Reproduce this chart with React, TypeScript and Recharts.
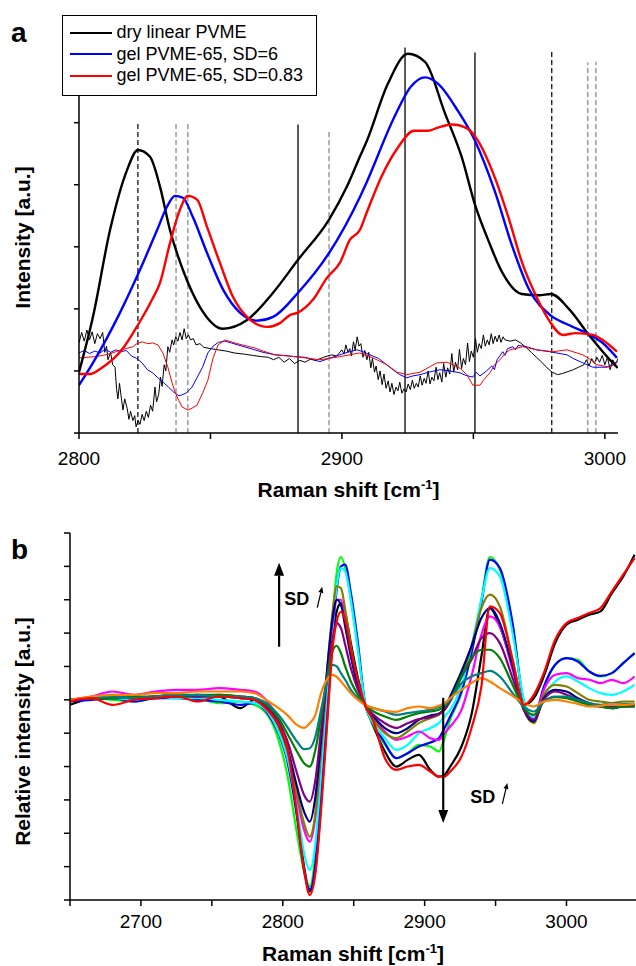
import React from 'react';
import { LineChart, Line, XAxis, YAxis, ReferenceLine, ReferenceDot, Legend, Label } from 'recharts';

type Pt = [number, number];

const FONT = '"Liberation Sans", Arial, Helvetica, sans-serif';

// ---- panel a : Raman shift [cm-1] vs intensity [a.u.]
const dryLinear: Pt[] = [
  [2800, 0.98], [2805.3, 1.87], [2811.8, 3.27], [2818.3, 4.24], [2822.4, 4.56], [2827, 4.45],
  [2830.8, 3.97], [2834.6, 3.27], [2839.5, 2.63], [2846, 2.03], [2854.8, 1.68], [2863.9, 1.82],
  [2873.8, 2.26], [2883.3, 2.79], [2895.1, 3.44], [2901.9, 3.97], [2906.8, 4.45], [2909.5, 4.71],
  [2917.5, 5.63], [2925.1, 6.11], [2931.6, 5.98], [2939.2, 5.15], [2945.6, 4.44], [2950.6, 3.68],
  [2955.9, 3.08], [2960.8, 2.6], [2968.4, 2.24], [2975, 2.22], [2979.5, 2.24], [2986.3, 2.0],
  [2994.3, 1.56], [3003, 1.13], [3004.9, 1.05],
];

const gelSd6: Pt[] = [
  [2800, 0.77], [2805.3, 1.13], [2815.6, 1.94], [2823.2, 2.63], [2829.7, 3.27], [2833.5, 3.65],
  [2836.5, 3.82], [2839.5, 3.79], [2843.3, 3.48], [2848.7, 2.9], [2854.8, 2.31], [2861.2, 1.94],
  [2867.7, 1.81], [2873.8, 1.87], [2883.3, 2.26], [2895.1, 2.9], [2906.8, 3.8], [2909.5, 4.05],
  [2919.8, 5.08], [2926.2, 5.58], [2931.6, 5.73], [2936.5, 5.63], [2944.1, 5.19], [2950.6, 4.71],
  [2958.2, 3.89], [2964.6, 3.03], [2971.1, 2.32], [2979.5, 1.89], [2986.3, 1.74], [2994.3, 1.58],
  [2999.2, 1.45], [3004.6, 1.21],
];

const gelSd083: Pt[] = [
  [2800, 0.95], [2804.2, 0.95], [2808.7, 1.05], [2816.3, 1.34], [2822.4, 1.74], [2827.8, 2.15],
  [2830.8, 2.42], [2834.6, 3.06], [2838.4, 3.6], [2841.4, 3.82], [2844.9, 3.76], [2848.7, 3.32],
  [2853.6, 2.74], [2858.6, 2.19], [2863.9, 1.87], [2871.5, 1.71], [2876.4, 1.77], [2880.2, 1.9],
  [2883.3, 1.94], [2889, 2.15], [2894.3, 2.5], [2899.2, 2.74], [2903, 3.11], [2906.8, 3.27],
  [2909.5, 3.56], [2914.8, 4.11], [2921.3, 4.6], [2927.4, 4.87], [2932.7, 4.87], [2936.5, 4.92],
  [2941.8, 4.97], [2947.9, 4.9], [2951.7, 4.71], [2958.2, 4.11], [2963.5, 3.45], [2968.4, 2.76],
  [2973.8, 2.21], [2978.7, 1.82], [2984, 1.58], [2989, 1.61], [2995.4, 1.58], [2999.2, 1.5],
  [3004.6, 1.31],
];

// thin difference spectra
const diffDry: Pt[] = [
  [2800, 1.45], [2801, 1.62], [2802, 1.48], [2803, 1.66], [2804, 1.5], [2805, 1.63], [2806, 1.44],
  [2807, 1.6], [2808, 1.52], [2809, 1.62], [2809.8, 1.3], [2810.5, 1.4], [2811, 1.18], [2812, 1.3],
  [2812.8, 1.1], [2813.7, 1.06], [2814.3, 0.7], [2814.8, 0.55], [2815.4, 0.8], [2816, 0.6],
  [2816.7, 0.37], [2817.4, 0.55], [2818.3, 0.4], [2819, 0.22], [2819.6, 0.35], [2820.5, 0.2],
  [2821.2, 0.28], [2821.7, 0.1], [2822.5, 0.2], [2823.2, 0.14], [2824, 0.3], [2824.8, 0.2],
  [2825.6, 0.35], [2826.4, 0.25], [2827.2, 0.45], [2828, 0.35], [2828.9, 0.74], [2829.5, 0.5],
  [2830.3, 0.62], [2831, 0.9], [2831.6, 0.75], [2832.4, 1.1], [2833, 1.0], [2833.8, 1.39],
  [2834.5, 1.3], [2835.4, 1.5], [2836, 1.42], [2836.8, 1.55], [2837.6, 1.48], [2838.4, 1.62],
  [2839.2, 1.5], [2840, 1.68], [2840.8, 1.52], [2841.6, 1.58], [2842.4, 1.5], [2843.5, 1.52],
  [2844.5, 1.42], [2846, 1.44], [2847.5, 1.38], [2850, 1.36], [2853, 1.34], [2856, 1.32],
  [2859, 1.29], [2863, 1.27], [2866, 1.25], [2869.5, 1.23], [2872, 1.22], [2874, 1.18],
  [2876, 1.22], [2878, 1.14], [2880, 1.2], [2882, 1.12], [2884, 1.17], [2886, 1.14], [2888, 1.19],
  [2890, 1.17], [2893, 1.22], [2896, 1.26], [2898, 1.24],
  [2900, 1.34], [2900.8, 1.27], [2901.5, 1.42], [2902.3, 1.3], [2903, 1.36], [2903.6, 1.24],
  [2904.4, 1.47], [2905, 1.33], [2905.8, 1.55], [2906.5, 1.4], [2907.2, 1.44], [2908, 1.22],
  [2908.7, 1.33], [2909.5, 1.18], [2910.2, 1.3], [2911, 1.05], [2911.6, 1.2], [2912.4, 0.98],
  [2913, 1.08], [2913.8, 0.86], [2914.5, 1.0], [2915.3, 0.78], [2916, 0.95], [2916.8, 0.72],
  [2917.6, 0.84], [2918.3, 0.66], [2919, 0.8], [2919.8, 0.62], [2920.6, 0.74], [2921.3, 0.68],
  [2922, 0.82], [2922.8, 0.64], [2923.6, 0.71], [2924.4, 0.66], [2925.2, 0.79], [2926, 0.7],
  [2926.8, 0.85], [2927.5, 0.72], [2928.3, 0.8], [2929, 0.74], [2929.8, 0.92], [2930.5, 0.77],
  [2931.3, 0.88], [2932, 0.8], [2932.8, 1.0], [2933.5, 0.79], [2934.2, 0.9], [2935, 0.84],
  [2935.8, 1.06], [2936.5, 0.86], [2937.2, 0.97], [2938, 0.82], [2938.7, 1.12], [2939.5, 0.9],
  [2940.2, 1.05], [2941, 0.95], [2941.8, 1.28], [2942.5, 0.98], [2943.2, 1.14], [2944, 1.02],
  [2944.7, 1.35], [2945.5, 1.04], [2946.2, 1.2], [2947, 1.1], [2947.8, 1.45], [2948.5, 1.15],
  [2949.2, 1.32], [2950, 1.22], [2950.8, 1.52], [2951.5, 1.3], [2952.2, 1.44], [2953, 1.36],
  [2953.8, 1.58], [2954.5, 1.4], [2955.3, 1.5], [2956, 1.42], [2956.8, 1.6], [2957.5, 1.44],
  [2958.3, 1.56], [2959, 1.47], [2959.8, 1.58], [2960.5, 1.46], [2961.3, 1.55], [2962, 1.5],
  [2964, 1.48], [2966, 1.5], [2968, 1.45],
  [2970, 1.38], [2972, 1.3], [2974, 1.22], [2976, 1.14], [2978, 1.05], [2980, 0.98], [2982, 0.94],
  [2984, 0.96], [2986, 0.99], [2988, 1.02], [2990, 1.06], [2992, 1.1], [2993, 1.18], [2994, 1.08],
  [2995, 1.2], [2996, 1.12], [2997, 1.22], [2998, 1.14], [2999, 1.25], [3000, 1.1], [3001, 1.22],
  [3002, 1.02], [3003, 1.18], [3004, 1.1], [3005, 1.2],
];

const diffSd6: Pt[] = [
  [2800, 1.29], [2802, 1.33], [2804, 1.28], [2806, 1.32], [2808, 1.29], [2810, 1.35], [2812, 1.3],
  [2814, 1.34], [2816, 1.31], [2818, 1.33], [2820, 1.24], [2822, 1.2], [2824, 1.13], [2826, 1.02],
  [2828, 0.97], [2830, 0.89], [2832, 0.82], [2834, 0.74], [2836, 0.66], [2838, 0.6], [2839.5, 0.62],
  [2841, 0.65], [2843, 0.74], [2845, 0.9], [2847, 1.06], [2849, 1.29], [2851, 1.4], [2853, 1.46],
  [2855.5, 1.48], [2858, 1.45], [2862, 1.4], [2866.9, 1.34], [2870, 1.3], [2874.5, 1.26],
  [2878, 1.25], [2882, 1.23], [2886, 1.22], [2891.6, 1.15], [2895, 1.2], [2899.2, 1.26],
  [2902, 1.3], [2905.7, 1.34], [2908, 1.31], [2910.6, 1.26], [2914, 1.2], [2917, 1.1], [2920, 1.0],
  [2922, 0.94], [2924.7, 0.89], [2927, 0.92], [2929.7, 0.94], [2933, 0.98], [2937.3, 1.02],
  [2941, 1.0], [2944.9, 0.97], [2947, 0.93], [2949.8, 0.9], [2951, 0.98], [2952.5, 0.92],
  [2955, 1.0], [2957, 1.08], [2958, 1.02], [2959, 1.18], [2961.2, 1.31], [2962, 1.25],
  [2963, 1.36], [2965, 1.39], [2966, 1.34], [2967, 1.41], [2969, 1.4], [2971, 1.38], [2974, 1.34],
  [2979, 1.31], [2985.6, 1.26], [2988, 1.2], [2991.6, 1.13], [2995.4, 1.06], [3000.8, 1.06],
  [3004.6, 1.15],
];

const diffSd083: Pt[] = [
  [2800, 1.21], [2803, 1.22], [2806, 1.23], [2809, 1.25], [2812, 1.28], [2816, 1.34], [2818, 1.36],
  [2820.5, 1.39], [2822, 1.44], [2824, 1.47], [2826, 1.44], [2828, 1.45], [2830, 1.42],
  [2831.9, 1.29], [2833.8, 1.06], [2835.4, 0.81], [2836.5, 0.66], [2838, 0.52], [2839.2, 0.42],
  [2841.4, 0.37], [2843, 0.4], [2844.9, 0.45], [2847.1, 0.65], [2849, 0.85], [2851, 1.21],
  [2852.9, 1.42], [2855.5, 1.5], [2859.3, 1.45], [2862, 1.42], [2866.9, 1.37], [2870, 1.32],
  [2874.5, 1.26], [2882.1, 1.23], [2891.6, 1.18], [2899.2, 1.23], [2906.8, 1.29], [2911.8, 1.21],
  [2917.1, 1.1], [2920.9, 0.98], [2924.7, 0.94], [2929.7, 0.98], [2936.1, 1.13], [2940, 1.14],
  [2942.2, 1.1], [2945, 1.04], [2947.5, 0.94], [2949.8, 0.77], [2952.5, 0.77], [2954, 0.86],
  [2956.3, 0.97], [2958, 1.1], [2960.1, 1.18], [2962, 1.28], [2963.9, 1.34], [2968.8, 1.39],
  [2974.1, 1.34], [2980.2, 1.31], [2985.6, 1.34], [2991.6, 1.26], [2994, 1.2], [2997, 1.1],
  [3001.9, 1.06], [3004.9, 1.15],
];

const legendNames = ['dry linear PVME', 'gel PVME-65, SD=6', 'gel PVME-65, SD=0.83'];

// band positions marked in panel a: [shift, top of the marker]
const solidBands: Pt[] = [[2883.3, 4.97], [2924.0, 6.21], [2950.6, 6.13]];
const darkDashedBands: Pt[] = [[2822.4, 5.02], [2979.8, 6.16]];
const greyDashedBands: Pt[] = [[2836.9, 5.02], [2841.4, 5.02], [2895.1, 4.89], [2993.5, 5.97], [2996.6, 5.98]];

const ticksA = [2800, 2850, 2900, 2950, 3000];

// ---- panel b : relative intensity for increasing SD
const shiftB = [
  2650, 2665, 2680, 2695, 2710, 2725, 2740, 2755, 2770, 2780,
  2790, 2797, 2803, 2810, 2815, 2819, 2823, 2827, 2831, 2835,
  2838, 2841, 2844, 2848, 2853, 2858, 2864, 2872, 2880, 2888,
  2896, 2904, 2910, 2914, 2918, 2926, 2933, 2940, 2946, 2953,
  2962, 2970, 2977, 2984, 2992, 3000, 3008, 3016, 3024, 3032,
  3040, 3048,
];

const relBlack = [
  -0.15, 0.05, 0.1, 0.05, 0.1, 0.15, 0.12, 0.1, -0.25, 0.0,
  -0.3, -0.7, -1.4, -3.4, -5.0, -5.75, -5.1, -3.1, -0.7, 1.7,
  2.65, 2.9, 2.6, 1.7, 0.65, -0.15, -0.8, -1.55, -2.0, -1.8,
  -1.65, -2.1, -2.3, -2.25, -2.0, -1.4, -0.45, 1.3, 2.75, 2.2,
  1.0, -0.15, 0.05, 0.7, 1.7, 2.25, 2.4, 2.55, 2.65, 3.2,
  3.7, 4.35,
];
const relRed = [
  -0.05, 0.05, -0.15, 0.0, 0.05, 0.1, -0.05, 0.1, 0.05, 0.0,
  -0.35, -0.75, -1.4, -3.4, -5.1, -5.85, -5.2, -3.3, -0.9, 1.5,
  2.35, 2.64, 2.4, 1.5, 0.6, -0.15, -0.65, -1.75, -2.1, -2.0,
  -1.95, -2.15, -2.3, -2.3, -2.15, -1.7, -0.85, 0.4, 2.8, 2.6,
  1.2, -0.15, 0.15, 0.8, 1.8, 2.3, 2.45, 2.6, 2.75, 3.25,
  3.75, 4.25,
];
const relLime = [
  0.0, 0.05, 0.0, -0.05, 0.05, 0.1, 0.05, -0.1, -0.05, -0.15,
  -0.5, -1.2, -2.2, -4.0, -5.15, -5.6, -4.6, -2.3, 0.3, 2.4,
  3.8, 4.28, 3.95, 3.0, 1.5, -0.1, -0.75, -1.35, -1.75, -1.6,
  -1.35, -1.4, -1.55, -1.15, -0.6, 0.2, 1.4, 3.0, 4.28, 3.9,
  2.2, -0.1, -0.6, 0.35, 1.05, 1.25, 1.2, 0.85, 0.7, 0.8,
  1.1, 1.4,
];
const relBlue = [
  -0.05, 0.0, 0.05, -0.05, 0.05, 0.05, 0.0, -0.05, -0.15, -0.1,
  -0.45, -1.0, -1.8, -3.5, -5.1, -5.68, -4.9, -2.6, -0.1, 1.9,
  3.3, 4.0, 4.05, 3.2, 1.7, -0.1, -0.7, -1.3, -1.75, -1.6,
  -1.4, -1.28, -1.15, -0.85, -0.5, 0.25, 1.4, 2.9, 4.2, 3.95,
  2.3, -0.1, -0.55, 0.39, 1.05, 1.25, 1.15, 0.85, 0.72, 0.8,
  1.1, 1.4,
];
const relCyan = [
  0.0, 0.05, 0.05, 0.0, 0.1, 0.05, 0.05, 0.0, -0.05, -0.1,
  -0.4, -0.95, -1.7, -3.2, -4.6, -5.1, -4.3, -2.2, 0.2, 2.1,
  3.4, 3.95, 3.85, 3.0, 1.5, -0.1, -0.7, -1.15, -1.5, -1.35,
  -1.0, -0.85, -0.7, -0.5, -0.3, 0.45, 1.6, 3.0, 3.95, 3.7,
  2.0, 0.0, -0.55, 0.1, 0.55, 0.7, 0.55, 0.35, 0.2, 0.15,
  0.25, 0.45,
];
const relMagenta = [
  0.0, 0.1, 0.25, 0.15, 0.25, 0.3, 0.3, 0.35, 0.3, 0.25,
  -0.1, -0.6, -1.4, -2.9, -3.9, -4.25, -3.5, -1.5, 0.6, 2.3,
  3.0, 3.0, 2.4, 1.4, 0.45, -0.15, -0.55, -0.95, -1.2, -1.1,
  -0.95, -1.15, -1.2, -1.0, -0.8, -0.3, 0.7, 1.95, 2.5, 2.2,
  0.9, -0.3, -0.6, 0.3, 0.75, 0.8, 0.65, 0.6, 0.5, 0.6,
  0.5, 0.7,
];
const relOlive = [
  0.0, 0.05, 0.1, 0.05, 0.1, 0.1, 0.15, 0.1, 0.1, 0.05,
  -0.3, -0.8, -1.5, -2.8, -3.7, -4.1, -3.4, -1.5, 0.7, 2.6,
  3.4, 3.35, 2.7, 1.6, 0.5, -0.15, -0.6, -1.0, -1.15, -0.95,
  -0.7, -0.55, -0.45, -0.3, 0.0, 0.7, 1.6, 2.75, 3.15, 2.8,
  1.2, -0.3, -0.7, 0.15, 0.45, 0.4, 0.2, 0.0, -0.05, -0.1,
  -0.05, -0.05,
];
const relNavy = [
  0.0, 0.05, 0.05, 0.1, 0.05, 0.1, 0.1, 0.1, 0.05, 0.0,
  -0.3, -0.75, -1.4, -2.6, -3.35, -3.65, -2.9, -1.2, 0.8, 2.4,
  3.0, 2.85, 2.2, 1.3, 0.4, -0.15, -0.5, -0.85, -1.0, -0.85,
  -0.6, -0.47, -0.42, -0.25, 0.1, 0.85, 1.6, 2.45, 2.75, 2.3,
  1.0, -0.3, -0.65, 0.05, 0.3, 0.25, 0.05, -0.1, -0.2, -0.25,
  -0.2, -0.2,
];
const relPurple = [
  0.0, 0.05, 0.1, 0.05, 0.1, 0.15, 0.1, 0.15, 0.1, 0.05,
  -0.25, -0.65, -1.2, -2.2, -2.85, -3.05, -2.4, -0.9, 0.6, 1.8,
  2.3, 2.15, 1.65, 0.95, 0.3, -0.15, -0.45, -0.7, -0.84, -0.7,
  -0.58, -0.52, -0.42, -0.3, -0.05, 0.7, 1.2, 1.85, 2.0, 1.7,
  0.65, -0.3, -0.6, 0.0, 0.25, 0.15, 0.0, -0.15, -0.2, -0.2,
  -0.2, -0.15,
];
const relGreen = [
  0.0, 0.05, 0.05, 0.1, 0.1, 0.1, 0.15, 0.15, 0.1, 0.05,
  -0.2, -0.55, -1.0, -1.55, -1.9, -2.0, -1.5, -0.5, 0.6, 1.45,
  1.62, 1.4, 1.0, 0.55, 0.15, -0.15, -0.35, -0.5, -0.6, -0.5,
  -0.4, -0.35, -0.3, -0.2, 0.0, 0.72, 1.25, 1.5, 1.5, 1.25,
  0.45, -0.25, -0.45, -0.05, 0.08, 0.05, -0.05, -0.15, -0.2, -0.25,
  -0.2, -0.2,
];
const relTeal = [
  0.0, 0.05, 0.1, 0.05, 0.1, 0.15, 0.15, 0.1, 0.1, 0.05,
  -0.15, -0.45, -0.8, -1.25, -1.48, -1.45, -1.1, -0.3, 0.5, 1.05,
  1.0, 0.8, 0.6, 0.3, 0.05, -0.15, -0.25, -0.35, -0.45, -0.4,
  -0.35, -0.3, -0.22, -0.15, 0.0, 0.5, 0.7, 0.8, 0.87, 0.7,
  0.2, -0.2, -0.35, -0.05, 0.1, 0.1, 0.0, -0.1, -0.15, -0.1,
  -0.12, -0.12,
];
const relOrange = [
  0.0, 0.1, 0.15, 0.15, 0.2, 0.2, 0.25, 0.25, 0.25, 0.2,
  -0.05, -0.25, -0.45, -0.75, -0.84, -0.7, -0.45, 0.2, 0.6, 0.75,
  0.69, 0.55, 0.4, 0.2, 0.0, -0.15, -0.25, -0.33, -0.36, -0.25,
  -0.2, -0.25, -0.18, -0.1, 0.05, 0.3, 0.5, 0.65, 0.55, 0.35,
  0.12, -0.1, -0.2, -0.05, 0.0, -0.05, -0.12, -0.2, -0.18, -0.12,
  -0.15, -0.12,
];

const ticksB = [2650, 2700, 2750, 2800, 2850, 2900, 2950, 3000];

const seriesB: { key: string; values: number[]; color: string }[] = [
  { key: 'black', values: relBlack, color: '#000000' },
  { key: 'lime', values: relLime, color: '#00ff00' },
  { key: 'blue', values: relBlue, color: '#0000ff' },
  { key: 'cyan', values: relCyan, color: '#00ffff' },
  { key: 'magenta', values: relMagenta, color: '#ff00ff' },
  { key: 'olive', values: relOlive, color: '#808000' },
  { key: 'navy', values: relNavy, color: '#000080' },
  { key: 'purple', values: relPurple, color: '#800080' },
  { key: 'green', values: relGreen, color: '#008000' },
  { key: 'teal', values: relTeal, color: '#008080' },
  { key: 'orange', values: relOrange, color: '#ff8000' },
  { key: 'red', values: relRed, color: '#ff0000' },
];

const rowsB = shiftB.map((x, i) => {
  const row: Record<string, number> = { x };
  seriesB.forEach((s) => {
    row[s.key] = s.values[i];
  });
  return row;
});

const toRows = (pts: Pt[]) => pts.map(([x, y]) => ({ x, y }));

function arrowShape(head: number, half: number, width: number) {
  return (p: any) => {
    const { x1, y1, x2, y2 } = p;
    const ang = Math.atan2(y2 - y1, x2 - x1);
    const bx = x2 - head * Math.cos(ang);
    const by = y2 - head * Math.sin(ang);
    const nx = -Math.sin(ang) * half;
    const ny = Math.cos(ang) * half;
    return (
      <g>
        <line x1={x1} y1={y1} x2={bx} y2={by} stroke="#000" strokeWidth={width} />
        <polygon points={`${x2},${y2} ${bx + nx},${by + ny} ${bx - nx},${by - ny}`} fill="#000" />
      </g>
    );
  };
}

const sdText = (p: any) => (
  <text x={p.cx} y={p.cy} fontFamily={FONT} fontWeight="bold" fontSize={18} fill="#000">
    SD
  </text>
);

function xTitle(baseline: number) {
  return (p: any) => {
    const vb = p.viewBox;
    return (
      <text x={vb.x + vb.width / 2} y={vb.y + baseline} textAnchor="middle" fontFamily={FONT} fontWeight="bold" fontSize={21} fill="#000">
        Raman shift [cm
        <tspan dy={-8} fontSize={13}>-1</tspan>
        <tspan dy={8}>]</tspan>
      </text>
    );
  };
}

function yTitle(text: string, shift: number) {
  return (p: any) => {
    const vb = p.viewBox;
    const cy = vb.y + vb.height / 2 + shift;
    return (
      <text x={30} y={cy} transform={`rotate(-90 30 ${cy})`} textAnchor="middle" fontFamily={FONT} fontWeight="bold" fontSize={21} fill="#000">
        {text}
      </text>
    );
  };
}

function LegendBox({ payload }: any) {
  const items = (payload ?? [])
    .filter((e: any) => legendNames.includes(e.value))
    .sort((a: any, b: any) => legendNames.indexOf(a.value) - legendNames.indexOf(b.value));
  return (
    <div
      style={{
        width: 255,
        height: 81,
        boxSizing: 'border-box',
        border: '1.5px solid #000',
        background: '#fff',
        padding: '6px 0 0 6.5px',
      }}
    >
      {items.map((e: any) => (
        <div
          key={e.value}
          style={{ display: 'flex', alignItems: 'center', height: 21.5, fontSize: 18, fontFamily: FONT, color: '#000', whiteSpace: 'nowrap' }}
        >
          <span style={{ display: 'inline-block', width: 42, height: 0, borderTop: `2.5px solid ${e.color}`, marginRight: 5 }} />
          {e.value}
        </div>
      ))}
    </div>
  );
}

const tickFont = { fill: '#000', fontSize: 19, fontFamily: FONT };

function PanelA() {
  return (
    <LineChart width={636} height={500} margin={{ top: 42, right: 18, bottom: 0, left: 0 }}>
      <XAxis
        type="number"
        dataKey="x"
        domain={[2800, 3005]}
        ticks={ticksA}
        tickFormatter={(v) => (v % 100 === 0 ? String(v) : '')}
        height={67}
        stroke="#000"
        strokeWidth={1.5}
        tickSize={6}
        tickMargin={13}
        tick={tickFont}
        allowDataOverflow
      >
        <Label content={xTitle(64)} />
      </XAxis>
      <YAxis
        type="number"
        domain={[0, 6.3]}
        ticks={[0, 1, 2, 3, 4, 5, 6]}
        width={79}
        tickFormatter={() => ''}
        tickSize={5}
        stroke="#000"
        strokeWidth={1.5}
        allowDataOverflow
      >
        <Label content={yTitle('Intensity [a.u.]', 0)} />
      </YAxis>
      {solidBands.map(([x, top]) => (
        <ReferenceLine key={`s${x}`} segment={[{ x, y: 0 }, { x, y: top }]} stroke="#000" strokeWidth={1.3} />
      ))}
      {darkDashedBands.map(([x, top]) => (
        <ReferenceLine key={`d${x}`} segment={[{ x, y: 0 }, { x, y: top }]} stroke="#111" strokeWidth={1.3} strokeDasharray="5 3" />
      ))}
      {greyDashedBands.map(([x, top]) => (
        <ReferenceLine key={`g${x}`} segment={[{ x, y: 0 }, { x, y: top }]} stroke="#808080" strokeWidth={1.2} strokeDasharray="5 3" />
      ))}
      <Line data={toRows(diffDry)} dataKey="y" name="diff dry" type="linear" stroke="#000000" strokeWidth={1} dot={false} legendType="none" isAnimationActive={false} />
      <Line data={toRows(diffSd6)} dataKey="y" name="diff SD=6" type="linear" stroke="#0000ff" strokeWidth={1} dot={false} legendType="none" isAnimationActive={false} />
      <Line data={toRows(diffSd083)} dataKey="y" name="diff SD=0.83" type="linear" stroke="#ff0000" strokeWidth={1} dot={false} legendType="none" isAnimationActive={false} />
      <Line data={toRows(dryLinear)} dataKey="y" name={legendNames[0]} type="monotone" stroke="#000000" strokeWidth={2.4} dot={false} isAnimationActive={false} />
      <Line data={toRows(gelSd6)} dataKey="y" name={legendNames[1]} type="monotone" stroke="#0000ff" strokeWidth={2.4} dot={false} isAnimationActive={false} />
      <Line data={toRows(gelSd083)} dataKey="y" name={legendNames[2]} type="monotone" stroke="#ff0000" strokeWidth={2.4} dot={false} isAnimationActive={false} />
      <Legend
        layout="horizontal"
        verticalAlign="middle"
        align="center"
        wrapperStyle={{ left: 62, top: 15, width: 255, height: 81 }}
        content={<LegendBox />}
      />
    </LineChart>
  );
}

function PanelB() {
  return (
    <LineChart width={636} height={466} data={rowsB} margin={{ top: 33, right: 0, bottom: 0, left: 0 }}>
      <XAxis
        type="number"
        dataKey="x"
        domain={[2650, 3049]}
        ticks={ticksB}
        tickFormatter={(v) => (v % 100 === 0 ? String(v) : '')}
        height={66}
        stroke="#000"
        strokeWidth={1.5}
        tickSize={6}
        tickMargin={9}
        tick={tickFont}
        allowDataOverflow
      >
        <Label content={xTitle(61)} />
      </XAxis>
      <YAxis
        type="number"
        domain={[-6, 5]}
        ticks={[-6, -5, -4, -3, -2, -1, 0, 1, 2, 3, 4, 5]}
        width={70}
        tickFormatter={() => ''}
        tickSize={6}
        stroke="#000"
        strokeWidth={1.5}
        allowDataOverflow
      >
        <Label content={yTitle('Relative intensity [a.u.]', 15)} />
      </YAxis>
      {seriesB.map((s) => (
        <Line key={s.key} dataKey={s.key} type="monotone" stroke={s.color} strokeWidth={2.2} dot={false} isAnimationActive={false} />
      ))}
      <ReferenceLine segment={[{ x: 2797.4, y: 1.59 }, { x: 2797.4, y: 4.11 }]} shape={arrowShape(13, 5, 2.2)} />
      <ReferenceLine segment={[{ x: 2913.1, y: 0.06 }, { x: 2913.1, y: -3.69 }]} shape={arrowShape(13, 5, 2.2)} />
      <ReferenceLine segment={[{ x: 2824.3, y: 2.76 }, { x: 2827.8, y: 3.39 }]} shape={arrowShape(6, 2.5, 1.2)} />
      <ReferenceLine segment={[{ x: 2954.8, y: -3.12 }, { x: 2958.3, y: -2.49 }]} shape={arrowShape(6, 2.5, 1.2)} />
      <ReferenceDot x={2801} y={2.85} r={0} shape={sdText} />
      <ReferenceDot x={2932.2} y={-3.09} r={0} shape={sdText} />
    </LineChart>
  );
}

const panelLetter: React.CSSProperties = {
  position: 'absolute',
  left: 11,
  fontFamily: FONT,
  fontWeight: 'bold',
  fontSize: 28,
  lineHeight: 1,
  color: '#000',
};

export default function App() {
  return (
    <div style={{ position: 'absolute', left: 0, top: 0, width: 636, height: 966, background: '#fff', overflow: 'hidden' }}>
      <div style={{ position: 'absolute', left: 0, top: 0 }}>
        <PanelA />
      </div>
      <div style={{ position: 'absolute', left: 0, top: 500 }}>
        <PanelB />
      </div>
      <div style={{ ...panelLetter, top: 19 }}>a</div>
      <div style={{ ...panelLetter, top: 536 }}>b</div>
    </div>
  );
}
